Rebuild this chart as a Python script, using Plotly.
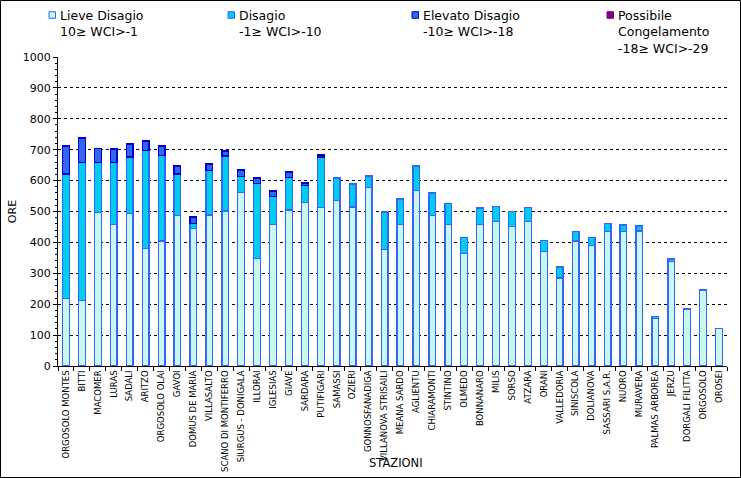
import plotly.graph_objects as go

stations = ["ORGOSOLO MONTES", "BITTI", "MACOMER", "LURAS", "SADALI", "ARITZO",
            "ORGOSOLO OLAI", "GAVOI", "DOMUS DE MARIA", "VILLASALTO",
            "SCANO DI MONTIFERRO", "SIURGUS - DONIGALA", "ILLORAI", "IGLESIAS",
            "GIAVE", "SARDARA", "PUTIFIGARI", "SAMASSI", "OZIERI", "GONNOSFANADIGA",
            "VILLANOVA STRISAILI", "MEANA SARDO", "AGLIENTU", "CHIARAMONTI",
            "STINTINO", "OLMEDO", "BONNANARO", "MILIS", "SORSO", "ATZARA", "ORANI",
            "VALLEDORIA", "SINISCOLA", "DOLIANOVA", "SASSARI S.A.R.", "NUORO",
            "MURAVERA", "PALMAS ARBOREA", "JERZU", "DORGALI FILITTA", "ORGOSOLO",
            "OROSEI"]

lieve = [218, 213, 497, 457, 494, 380, 405, 486, 445, 489, 502, 562, 347, 457,
         505, 529, 512, 536, 515, 577, 376, 459, 567, 486, 459, 363, 457, 467,
         451, 467, 370, 285, 405, 391, 435, 435, 437, 153, 338, 182, 245, 122]
disagio = [403, 446, 161, 202, 182, 317, 276, 135, 16, 143, 178, 51, 244, 91,
           106, 56, 164, 72, 74, 38, 122, 81, 80, 74, 68, 54, 54, 50,
           48, 47, 37, 35, 31, 26, 27, 21, 16, 8, 8, 2, 3, 0]
elevato = [91, 79, 47, 43, 42, 31, 31, 26, 21, 22, 16, 21, 17, 18,
           17, 7, 7, 0, 0, 0, 0, 0, 0, 0, 0, 0, 0, 0,
           0, 0, 0, 0, 0, 0, 0, 0, 0, 0, 0, 0, 0, 0]
congelamento = [0] * len(stations)

series_names = ["Lieve Disagio<br>10≥ WCI>-1",
                "Disagio<br>-1≥ WCI>-10",
                "Elevato Disagio<br>-10≥ WCI>-18",
                "Possibile<br>Congelamento<br>-18≥ WCI>-29"]

fills = ["#C8F8F0", "#00CCEE", "#3366EE", "#800080"]
lines = ["#3366FF", "#3366FF", "#0000CC", "#800080"]

W, H = 741, 478
ml, mr, mt, mb = 58, 14, 57, 112
pw = W - ml - mr
ph = H - mt - mb


def px_x(x):
    return (x - ml) / pw


def px_y(y):
    return (H - mb - y) / ph


fig = go.Figure()
for name, vals, fc, lc in zip(series_names, [lieve, disagio, elevato, congelamento], fills, lines):
    fig.add_trace(go.Bar(x=stations, y=[v if v else None for v in vals], name=name,
                         showlegend=False,
                         marker=dict(color=fc, line=dict(color=lc, width=1.3))))

# legend drawn by hand to match the reference layout
leg_x = [49, 228, 412, 607]
shapes = []
annotations = []
for lx, name, fc, lc in zip(leg_x, series_names, fills, lines):
    shapes.append(dict(type="rect", xref="paper", yref="paper",
                       x0=px_x(lx), x1=px_x(lx + 6.5), y0=px_y(18.3), y1=px_y(11.7),
                       fillcolor=fc, line=dict(color=lc, width=1)))
    annotations.append(dict(text=name, xref="paper", yref="paper",
                            x=px_x(lx + 9), y=px_y(6), xanchor="left", yanchor="top",
                            align="left", showarrow=False,
                            font=dict(family="DejaVu Sans", size=12.5, color="black")))

annotations.append(dict(text="STAZIONI", xref="paper", yref="paper",
                        x=px_x(396), y=px_y(463), xanchor="center", yanchor="middle",
                        showarrow=False, font=dict(family="DejaVu Sans", size=11.5, color="black")))

shapes.append(dict(type="rect", xref="paper", yref="paper",
                   x0=px_x(0.5), x1=px_x(W - 0.5), y0=px_y(H - 0.5), y1=px_y(0.5),
                   line=dict(color="black", width=1), fillcolor="rgba(0,0,0,0)"))

fig.update_layout(
    width=W, height=H,
    margin=dict(l=ml, r=mr, t=mt, b=mb, autoexpand=False),
    barmode="stack", bargap=0.58,
    paper_bgcolor="white", plot_bgcolor="white",
    font=dict(family="DejaVu Sans", size=12, color="black"),
    showlegend=False,
    xaxis=dict(type="category", tickangle=-90, tickfont=dict(family="DejaVu Sans", size=8.5),
               ticks="outside", ticklen=4, tickson="boundaries", tickcolor="black",
               showline=True, linecolor="black", linewidth=1, showgrid=False,
               range=[-0.5, len(stations) - 0.5]),
    yaxis=dict(range=[0, 1000], dtick=100, tickfont=dict(family="DejaVu Sans", size=11),
               ticks="outside", ticklen=4, tickcolor="black",
               showline=True, linecolor="black", linewidth=1,
               showgrid=True, gridcolor="black", griddash="dot", gridwidth=1,
               minor=dict(dtick=20, ticks="outside", ticklen=2, tickcolor="black", showgrid=False),
               zeroline=False,
               title=dict(text="ORE", font=dict(size=11), standoff=3)),
    shapes=shapes,
    annotations=annotations,
)

fig.write_html("out.html", config={"displayModeBar": False},
               post_script="document.body.style.margin='0';document.body.style.overflow='hidden';")
